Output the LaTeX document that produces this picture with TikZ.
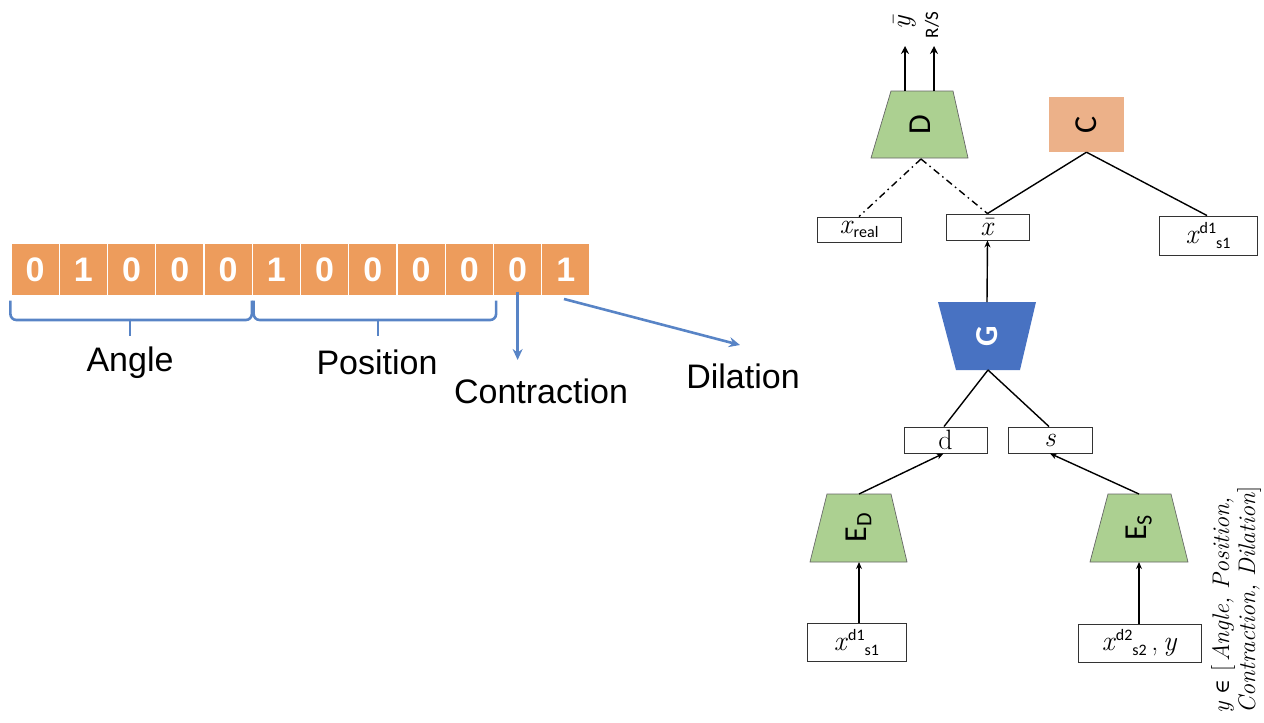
\documentclass[tikz,border=0pt]{standalone}
\usepackage{amsmath}
\usepackage{fontspec}
\newfontfamily\arialf{Liberation Sans}
\newfontfamily\calib{Carlito}
\newfontfamily\dvs{DejaVu Serif}
\usetikzlibrary{arrows.meta}
\definecolor{cellorange}{RGB}{237,156,92}
\definecolor{bblue}{RGB}{88,132,198}
\definecolor{encgreen}{RGB}{172,208,145}
\definecolor{clsorange}{RGB}{236,177,137}
\definecolor{genblue}{RGB}{72,114,194}
\newcommand{\vx}{\textit{x}}
\newcommand{\xds}[2]{\textit{x}\raisebox{10pt}{\calib\fontsize{16}{16}\selectfont #1}\raisebox{-5pt}{\calib\fontsize{16}{16}\selectfont #2}}
\begin{document}
\begin{tikzpicture}[x=1pt,y=-1pt,
  cell/.style={fill=cellorange,draw=white,line width=1.2pt,minimum width=48.25pt,minimum height=53pt,inner sep=0pt,
    text=white,font=\arialf\bfseries\fontsize{34}{36}\selectfont},
  bigtxt/.style={font=\arialf\fontsize{34}{40}\selectfont,inner sep=0pt},
  brc/.style={draw=bblue,line width=2.6pt,rounded corners=6pt},
  barrow/.style={draw=bblue,line width=2.6pt,-{Stealth[length=11pt,width=10pt]}},
  vbox/.style={draw=black!80,line width=0.9pt,fill=white,inner sep=0pt,font=\fontsize{28}{28}\selectfont},
  trap/.style={draw=black!60,line width=0.7pt},
  conn/.style={draw=black,line width=1.4pt},
  carr/.style={draw=black,line width=1.4pt,-{Stealth[length=7pt,width=6pt]}},
  oarr/.style={draw=black,line width=2.4pt,-{Stealth[length=8pt,width=8pt]}},
  dashdot/.style={draw=black,line width=1.4pt,dash pattern=on 7pt off 4pt on 1.5pt off 4pt},
  netlbl/.style={rotate=90,inner sep=0pt,font=\calib\fontsize{32}{32}\selectfont}
]
\useasboundingbox (0,0) rectangle (1264,723);

% ---- bit string ----
\foreach \b [count=\i] in {0,1,0,0,0,1,0,0,0,0,0,1}{
  \node[cell] (c\i) at ({11+48.25*(\i-0.5)},269.5) {\b};
}
% braces
\draw[brc] (c1.south west) ++(0,4) coordinate (a1) |- (130,320) coordinate (am);
\draw[brc] (c5.south east) ++(-1,4) |- (am);
\draw[brc] (am) ++(0,-0.1) -- (130,336);
\draw[brc] (c6.south west) ++(2,4) coordinate (p1) |- (378,320) coordinate (pm);
\draw[brc] (c10.south east) ++(2,4) |- (pm);
\draw[brc] (pm) ++(0,-0.1) -- (378,336);
\node[bigtxt] (angle) at (130,363) {Angle};
\node[bigtxt] (position) at (377,362) {Position};
\node[bigtxt] (contraction) at (541,391) {Contraction};
\node[bigtxt] (dilation) at (743,376) {Dilation};
\coordinate (cstart) at ([yshift=5pt]c11.south);
\draw[barrow] (cstart) -- (cstart |- 0,360);
\coordinate (dstart) at (564,299);
\coordinate (dend) at (740,345);
\draw[barrow] (dstart) -- (dend);

% ---- discriminator D ----
\fill[encgreen] (871,158) -- (891,91) -- (953,91) -- (968,158) -- cycle;
\draw[trap] (871,158) -- (891,91) -- (953,91) -- (968,158) -- cycle;
\node[netlbl] (D) at (920,125) {D};
\coordinate (Dbot) at (921,159);
\coordinate (Dt1) at (905,91);
\coordinate (Dt2) at (934,91);
\coordinate (Do1) at (905,46);
\coordinate (Do2) at (934,46);
\draw[oarr] (Dt1) -- (Do1);
\draw[oarr] (Dt2) -- (Do2);
\node[rotate=90,inner sep=0pt,font=\fontsize{28}{28}\selectfont] (ybar) at (905,22) {\textit{\=y}};
\node[rotate=90,inner sep=0pt,font=\calib\fontsize{19}{19}\selectfont] (rs) at (932,25) {R/S};

% ---- classifier C ----
\node[fill=clsorange,minimum width=75pt,minimum height=55pt,inner sep=0pt] (C) at (1086.5,124.5) {};
\node[netlbl] (Clbl) at (C.center) {C};

% boxes top row
\node[vbox,minimum width=84pt,minimum height=25pt] (xreal) at (859,229.5) {\vx\raisebox{-4pt}{\calib\fontsize{16}{16}\selectfont real}};
\node[vbox,minimum width=83pt,minimum height=26pt] (xbar) at (987.5,227) {\textit{\=x}};
\node[vbox,minimum width=98pt,minimum height=39pt] (xtop) at (1208,235.5) {\xds{d1}{s1}};

\draw[dashdot] (Dbot) -- (xreal.north);
\draw[dashdot] (Dbot) -- (xbar.north);
\draw[conn] (C.south) -- (xbar.north);
\draw[conn] (C.south) -- ([xshift=-1pt]xtop.north);

% ---- generator G ----
\fill[genblue] (938,302) -- (1036,302) -- (1020,370) -- (956,370) -- cycle;
\node[netlbl,text=white,font=\calib\bfseries\fontsize{32}{32}\selectfont] (G) at (987,336) {G};
\coordinate (Gtop) at (987,302);
\coordinate (Gbot) at (988,370);
\draw[carr] (Gtop) -- (xbar.south);

\node[vbox,minimum width=83pt,minimum height=26pt] (d) at (945.5,440) {d};
\node[vbox,minimum width=84pt,minimum height=26pt] (s) at (1050,440) {\textit{s}};
\draw[conn] (Gbot) -- ([xshift=-1.5pt]d.north);
\draw[conn] (Gbot) -- ([xshift=-1pt]s.north);

% ---- encoders ----
\fill[encgreen] (810,562) -- (827,494) -- (891,494) -- (907,562) -- cycle;
\draw[trap] (810,562) -- (827,494) -- (891,494) -- (907,562) -- cycle;
\node[netlbl] (ED) at (858.5,528) {E\raisebox{-5pt}{\fontsize{22}{22}\selectfont D}};
\coordinate (EDtop) at (859,494);
\coordinate (EDbot) at (859,562);

\fill[encgreen] (1090,562) -- (1108,494) -- (1171,494) -- (1188,562) -- cycle;
\draw[trap] (1090,562) -- (1108,494) -- (1171,494) -- (1188,562) -- cycle;
\node[netlbl] (ES) at (1139,528) {E\raisebox{-5pt}{\fontsize{22}{22}\selectfont S}};
\coordinate (EStop) at (1139,494);
\coordinate (ESbot) at (1139,562);

\draw[carr] (EDtop) -- ([xshift=-2pt]d.south);
\draw[carr] (EStop) -- (s.south);

\node[vbox,minimum width=99pt,minimum height=38pt] (xbot) at (856.5,642) {\xds{d1}{s1}};
\node[vbox,minimum width=123pt,minimum height=38pt] (xd2) at (1139.5,643) {\xds{d2}{s2}\,,\,\textit{y}};
\draw[carr] (xbot.north -| EDbot) -- (EDbot);
\draw[carr] (xd2.north -| ESbot) -- (ESbot);

% ---- y legend ----
\node[rotate=90,align=left,inner sep=0pt,font=\fontsize{24}{26}\selectfont] (ylegend) at (1236,600)
  {\textit{y} {\dvs\fontsize{20}{20}\selectfont ∈} [\,\textit{Angle, Position,}\\\textit{Contraction, Dilation}]};
\end{tikzpicture}
\end{document}
